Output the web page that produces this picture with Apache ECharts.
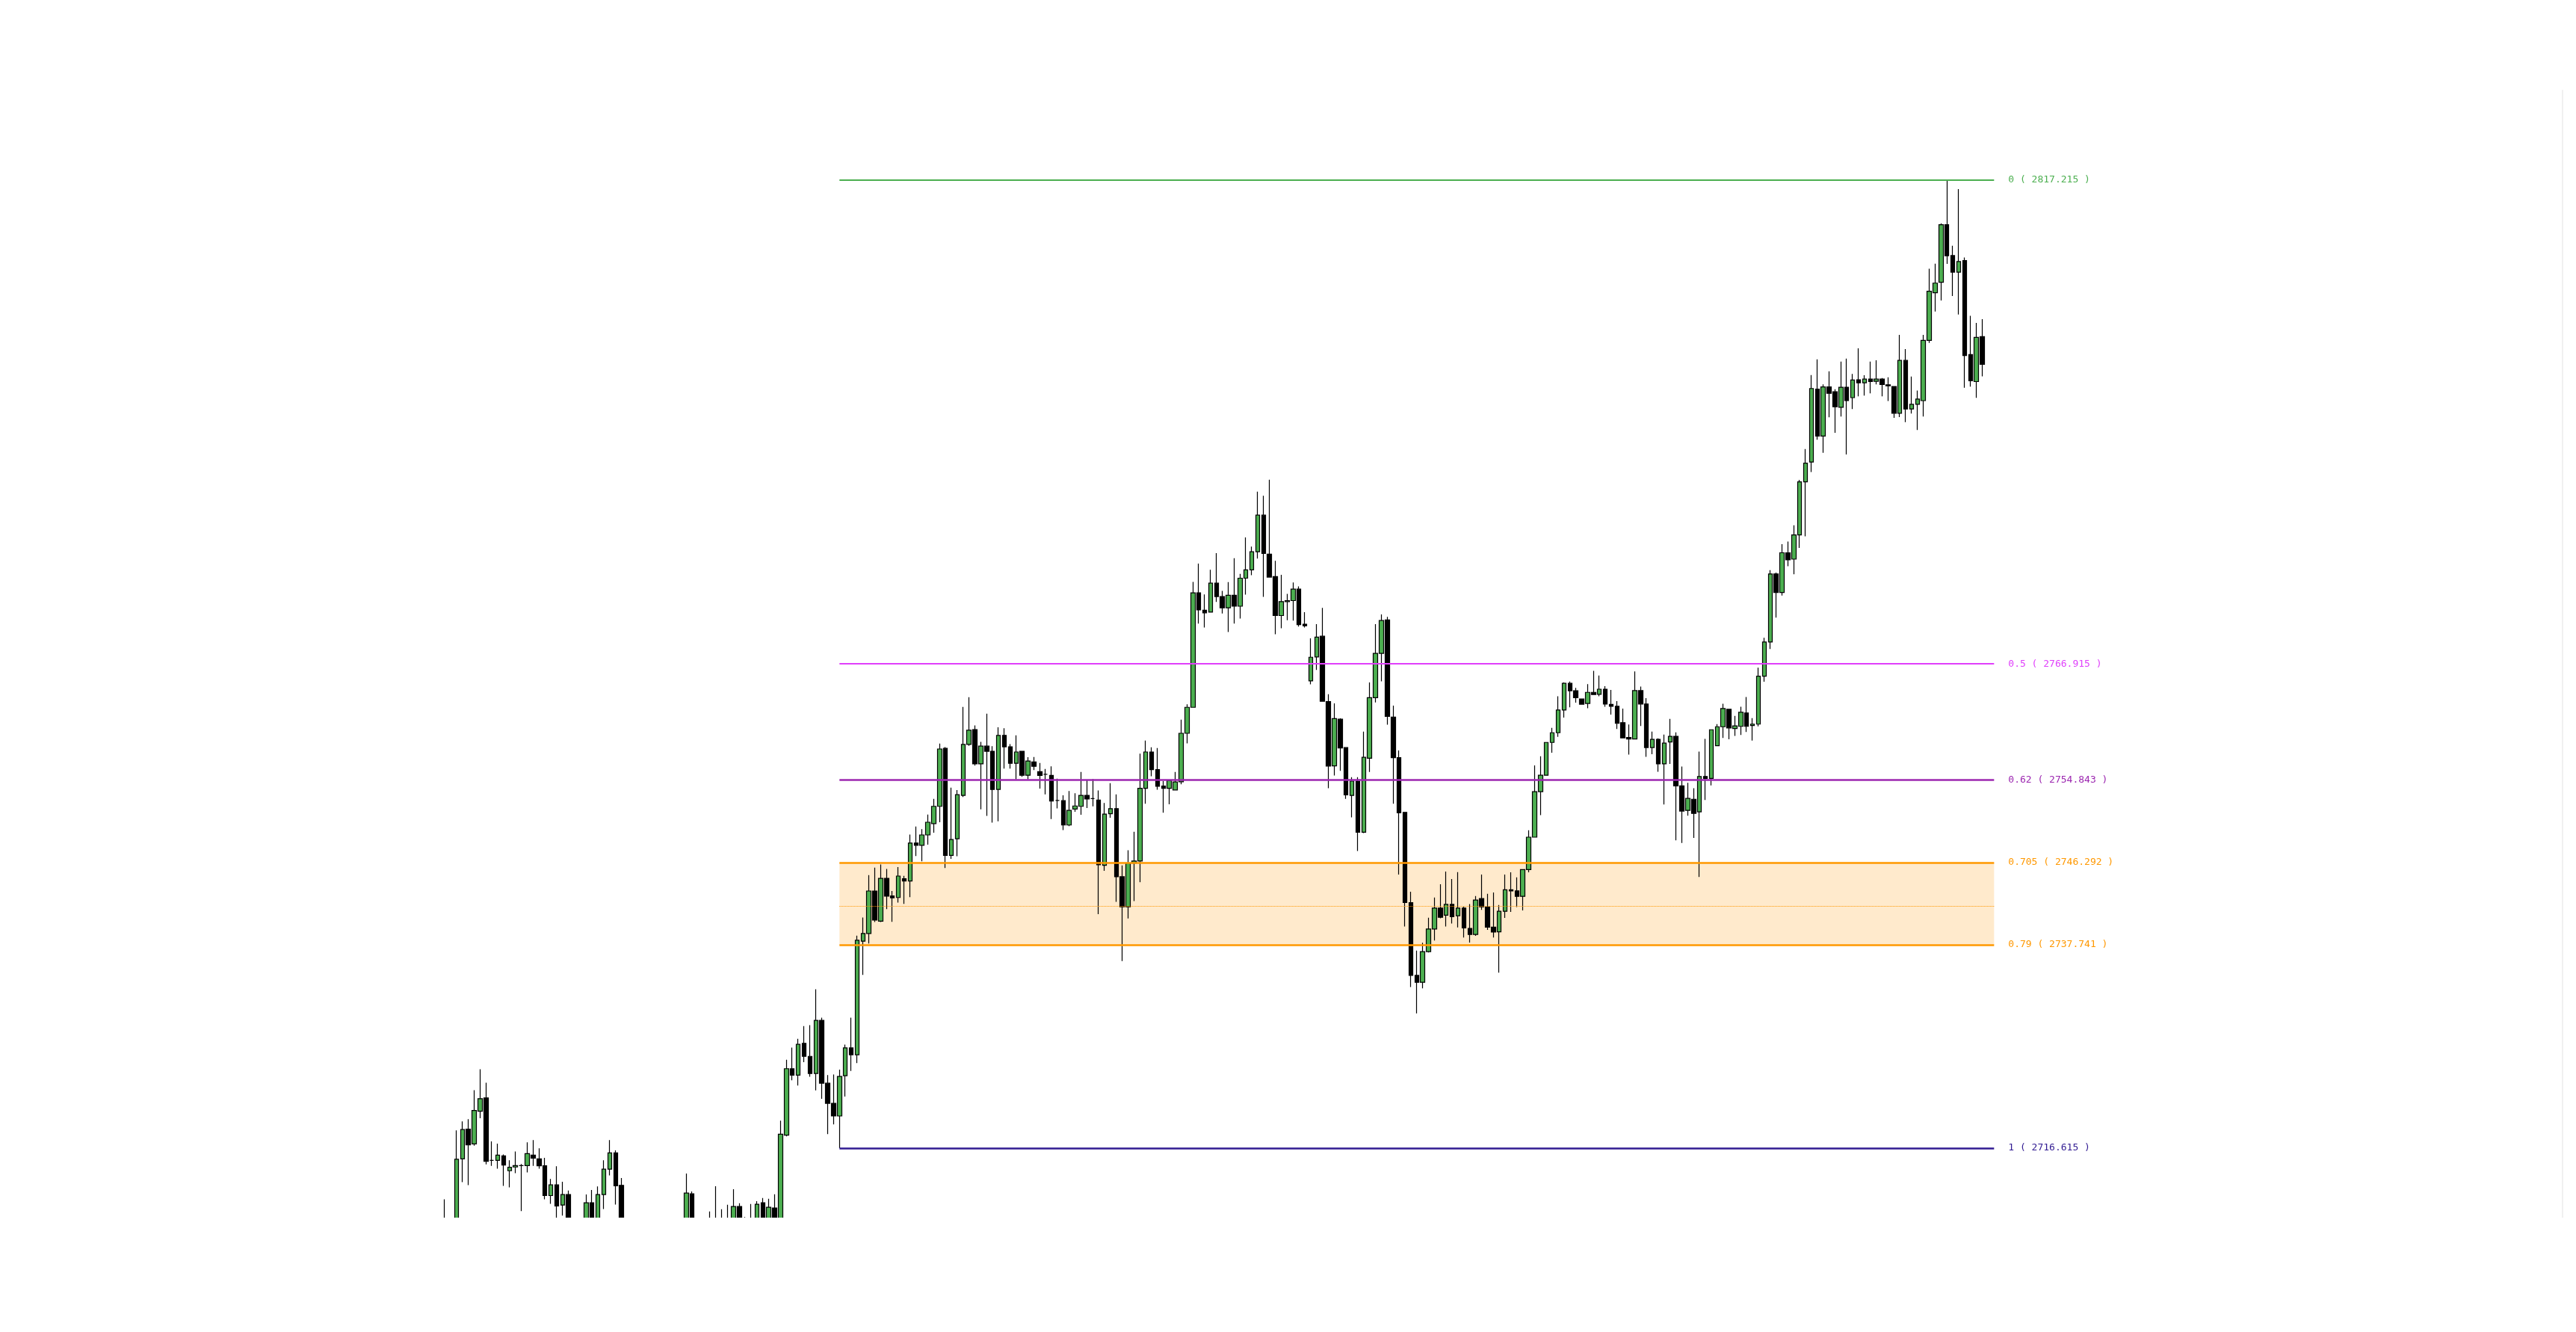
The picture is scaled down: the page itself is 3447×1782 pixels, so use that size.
<!DOCTYPE html>
<html>
<head>
<meta charset="utf-8">
<script src="https://cdn.jsdelivr.net/npm/echarts@6/dist/echarts.min.js"></script>
<style>
html,body{margin:0;padding:0;background:#fff;}
#chart{width:3447px;height:1782px;}
</style>
</head>
<body>
<div id="chart"></div>
<script>
// [open, close, low, high] for each bar, in order
const candles = [
[2706.0,2707.5,2705.0,2711.3],[2707.5,2706.0,2704.8,2708.9],[2708.0,2715.46,2707.2,2718.47],[2715.51,2718.55,2713.08,2719.4],
[2718.6,2716.95,2712.78,2719.63],[2717.05,2720.53,2716.87,2722.64],[2720.45,2721.76,2719.73,2724.81],[2721.84,2715.25,2714.94,2723.41],
[2715.35,2715.35,2714.78,2717.31],[2715.35,2715.89,2714.48,2717.08],[2715.81,2714.86,2712.7,2715.97],[2714.27,2714.63,2712.54,2715.35],
[2714.66,2714.81,2714.01,2716.28],[2714.81,2714.81,2710.07,2714.97],[2714.81,2716.05,2714.09,2717.23],[2715.89,2715.58,2714.78,2717.46],
[2715.5,2714.78,2714.48,2716.61],[2714.78,2711.69,2711.31,2715.61],[2711.69,2712.8,2710.84,2713.42],[2712.8,2710.61,2708.5,2714.73],
[2710.71,2711.8,2709.61,2713.13],[2711.8,2707.5,2706.0,2712.21],[2707.5,2705.2,2703.8,2708.6],[2705.2,2706.4,2704.5,2708.2],
[2706.4,2710.95,2705.8,2711.8],[2710.95,2708.2,2707.4,2712.28],[2708.2,2711.8,2707.6,2712.65],[2711.8,2714.43,2710.3,2715.35],
[2714.43,2716.12,2713.78,2717.46],[2716.12,2712.7,2710.76,2716.38],[2712.75,2707.0,2705.5,2713.52],[2707.0,2704.5,2703.2,2708.0],
[2704.5,2703.1,2701.8,2705.6],[2703.1,2704.8,2702.4,2706.0],[2704.8,2702.6,2701.5,2705.9],[2702.6,2701.4,2700.2,2703.8],
[2701.4,2703.2,2700.6,2704.1],[2703.2,2704.9,2702.7,2706.3],[2704.9,2703.8,2703.0,2706.2],[2703.8,2705.6,2703.1,2706.9],
[2705.6,2706.8,2704.9,2708.1],[2706.8,2711.95,2706.3,2713.99],[2711.87,2707.6,2706.8,2712.11],[2707.6,2706.1,2705.2,2708.4],
[2706.1,2705.3,2704.1,2707.5],[2705.3,2707.4,2704.8,2710.05],[2707.4,2706.6,2705.9,2712.67],[2706.6,2707.9,2706.0,2710.28],
[2707.9,2706.8,2706.1,2710.74],[2706.8,2710.56,2706.3,2712.36],[2710.56,2707.2,2706.5,2710.9],[2707.2,2707.9,2706.6,2709.45],
[2707.9,2708.4,2707.1,2710.82],[2708.4,2710.79,2707.9,2711.1],[2710.95,2708.6,2707.8,2711.43],[2708.6,2710.48,2708.1,2711.36],
[2710.4,2708.3,2707.5,2711.82],[2708.3,2718.06,2708.0,2719.47],[2717.97,2724.87,2717.85,2725.81],[2724.87,2724.2,2723.66,2727.07],
[2724.2,2727.4,2723.12,2727.97],[2727.5,2726.15,2725.55,2729.3],[2726.15,2724.37,2724.04,2729.4],[2724.37,2729.89,2722.62,2733.12],
[2729.89,2723.36,2721.74,2730.16],[2723.36,2721.27,2718.07,2724.2],[2721.27,2719.96,2719.08,2724.27],[2719.96,2724.07,2716.615,2724.78],
[2724.14,2727.03,2721.98,2727.37],[2727.03,2726.32,2724.64,2730.16],[2726.32,2738.21,2725.45,2738.68],[2738.11,2738.92,2734.61,2740.57],
[2738.92,2743.33,2737.87,2744.98],[2743.33,2740.3,2740.1,2745.75],[2740.2,2744.64,2740.1,2746.09],[2744.64,2742.79,2741.44,2745.62],
[2742.82,2742.62,2740.13,2743.33],[2742.65,2744.88,2742.12,2745.82],[2744.61,2744.37,2741.98,2744.91],[2744.37,2748.31,2742.69,2749.19],
[2748.31,2748.08,2746.96,2750.03],[2748.08,2749.15,2746.42,2749.76],[2749.15,2750.47,2748.14,2751.27],[2750.33,2752.12,2749.39,2752.89],
[2752.12,2758.08,2750.47,2758.65],[2758.14,2747.03,2745.72,2758.28],[2747.03,2748.68,2746.66,2754.07],[2748.75,2753.33,2746.93,2753.8],
[2753.26,2758.55,2753.09,2762.45],[2758.55,2760.03,2758.41,2763.46],[2760.1,2756.53,2756.36,2760.53],[2756.53,2758.38,2751.81,2758.82],
[2758.38,2757.84,2751.14,2761.75],[2757.84,2753.87,2750.43,2758.38],[2753.87,2759.49,2750.57,2760.33],[2759.49,2758.31,2756.05,2760.23],
[2758.31,2756.59,2756.05,2758.58],[2756.59,2757.77,2754.94,2759.49],[2757.84,2755.35,2755.18,2757.84],[2755.35,2756.83,2754.94,2757.23],
[2756.73,2756.28,2755.88,2757.25],[2755.72,2755.34,2753.96,2756.63],[2755.45,2755.45,2753.37,2756.0],[2755.34,2752.67,2750.8,2756.28],
[2752.74,2752.74,2751.91,2754.99],[2752.71,2750.18,2749.66,2753.26],[2750.18,2751.7,2750.07,2753.71],[2751.84,2752.16,2751.56,2753.47],
[2752.12,2753.26,2751.25,2755.69],[2753.26,2752.88,2751.95,2754.82],[2752.92,2752.92,2752.12,2754.96],[2752.78,2746.06,2740.93,2753.78],
[2745.99,2751.32,2745.43,2752.47],[2751.36,2751.88,2750.94,2754.52],[2751.88,2744.81,2742.21,2753.37],[2744.81,2741.69,2736.04,2745.99],
[2741.69,2746.23,2740.48,2747.55],[2746.23,2746.44,2742.28,2749.49],[2746.44,2753.99,2744.25,2757.59],[2753.99,2757.77,2752.4,2758.95],
[2757.77,2755.93,2755.24,2758.25],[2755.93,2754.2,2753.85,2758.18],[2754.23,2753.99,2751.46,2754.75],[2753.99,2754.79,2752.33,2754.79],
[2753.82,2754.65,2753.82,2755.69],[2754.68,2759.71,2754.41,2761.13],[2759.71,2762.41,2758.67,2762.72],[2762.41,2774.3,2762.41,2775.44],
[2774.3,2772.53,2771.11,2777.34],[2772.49,2772.22,2770.69,2774.13],[2772.29,2775.3,2772.29,2776.69],[2775.3,2773.91,2773.36,2778.42],
[2773.91,2772.74,2772.15,2774.5],[2772.74,2774.05,2770.24,2775.41],[2774.05,2772.91,2771.11,2777.9],[2772.91,2775.82,2771.63,2776.27],
[2775.82,2776.69,2774.12,2780.05],[2776.69,2778.56,2776.13,2779.11],[2778.56,2782.37,2777.86,2784.8],[2782.37,2778.39,2773.88,2784.38],
[2778.32,2775.93,2775.93,2786.04],[2775.99,2771.94,2770.0,2777.62],[2771.94,2773.39,2770.62,2776.17],[2773.39,2773.49,2771.45,2774.19],
[2773.49,2774.68,2771.42,2775.37],[2774.68,2771.0,2770.8,2774.96],[2771.04,2770.87,2770.69,2772.29],[2765.15,2767.61,2764.8,2769.58],
[2767.64,2769.69,2766.29,2771.04],[2769.79,2763.03,2763.03,2772.74],[2763.0,2756.31,2754.0,2763.76],[2756.32,2761.23,2755.32,2762.81],
[2761.17,2758.19,2755.8,2761.26],[2758.22,2753.31,2752.9,2758.22],[2753.25,2754.74,2750.98,2755.14],[2754.74,2749.43,2747.48,2755.14],
[2749.43,2757.21,2749.34,2759.88],[2757.12,2763.41,2755.69,2764.99],[2763.41,2768.01,2762.92,2771.05],[2768.01,2771.42,2765.11,2772.05],
[2771.48,2761.46,2760.6,2771.8],[2761.4,2757.18,2752.39,2762.58],[2757.18,2751.44,2745.04,2757.93],[2751.5,2742.13,2739.64,2751.5],
[2742.11,2734.56,2733.35,2743.26],[2734.56,2733.84,2730.62,2737.14],[2733.84,2737.03,2733.21,2737.95],[2737.03,2739.38,2736.94,2740.56],
[2739.38,2741.56,2738.18,2742.65],[2741.56,2740.59,2740.5,2744.03],[2740.82,2741.94,2739.64,2745.35],[2741.94,2740.65,2739.96,2744.58],
[2740.76,2741.56,2739.55,2745.29],[2741.56,2739.5,2738.49,2741.7],[2739.44,2738.81,2737.98,2741.96],[2738.81,2742.39,2738.67,2742.8],
[2742.54,2741.68,2741.36,2745.04],[2741.68,2739.58,2739.3,2743.03],[2739.58,2739.06,2738.49,2743.17],[2739.09,2741.22,2734.85,2741.88],
[2741.22,2743.46,2740.53,2745.04],[2743.46,2743.34,2741.16,2745.27],[2743.34,2742.77,2741.65,2744.75],[2742.77,2745.55,2741.31,2745.55],
[2745.55,2748.92,2745.26,2749.63],[2748.92,2753.65,2748.92,2756.38],[2753.65,2755.35,2751.21,2757.32],[2755.35,2758.76,2755.32,2758.76],
[2758.76,2759.77,2757.7,2760.28],[2759.77,2762.12,2759.34,2763.56],[2762.12,2764.9,2761.35,2764.99],[2764.9,2764.13,2762.41,2765.08],
[2764.13,2763.41,2762.9,2764.42],[2763.27,2762.72,2762.72,2763.27],[2762.81,2763.96,2762.32,2764.82],[2763.96,2763.73,2763.73,2766.2],
[2763.75,2764.29,2763.56,2765.7],[2764.29,2762.74,2762.47,2764.6],[2762.71,2762.51,2761.66,2764.21],[2762.51,2760.74,2760.16,2763.05],
[2760.81,2759.23,2759.23,2762.28],[2759.27,2759.12,2757.49,2760.62],[2759.12,2764.14,2759.12,2766.14],[2764.14,2762.75,2760.47,2764.56],
[2762.75,2758.23,2757.26,2763.36],[2758.23,2759.08,2757.53,2759.89],[2759.08,2756.53,2755.72,2759.19],[2756.53,2758.69,2752.32,2759.58],
[2758.8,2759.39,2756.53,2761.2],[2759.39,2754.25,2748.58,2759.81],[2754.25,2751.63,2748.31,2756.26],[2751.7,2752.94,2751.16,2754.56],
[2752.86,2751.39,2748.85,2754.0],[2751.55,2755.22,2744.79,2757.8],[2755.22,2755.03,2752.78,2759.12],[2755.03,2760.08,2754.29,2760.08],
[2758.42,2760.39,2758.42,2760.66],[2760.39,2762.28,2759.23,2762.78],[2762.2,2760.27,2759.08,2762.2],[2760.2,2760.47,2759.43,2761.51],
[2760.43,2761.89,2759.54,2762.47],[2761.82,2760.43,2759.85,2763.48],[2760.51,2760.66,2758.96,2761.28],[2760.66,2765.64,2760.43,2766.53],
[2765.64,2769.19,2765.06,2769.62],[2769.19,2776.26,2768.46,2776.65],[2776.26,2774.33,2771.73,2776.41],[2774.33,2778.46,2774.02,2779.35],
[2778.46,2777.73,2777.07,2779.62],[2777.8,2780.31,2776.22,2781.32],[2780.31,2785.83,2778.96,2786.03],[2785.83,2787.77,2780.16,2789.23],
[2787.88,2795.52,2786.84,2796.91],[2795.45,2790.58,2790.2,2798.54],[2790.58,2795.68,2788.85,2795.95],[2795.68,2795.02,2792.53,2797.3],
[2795.19,2793.62,2790.92,2795.45],[2793.57,2795.65,2792.61,2798.31],[2795.65,2794.26,2788.67,2798.62],[2794.57,2796.4,2793.39,2797.04],
[2796.43,2796.12,2794.7,2799.7],[2796.12,2796.5,2794.78,2796.89],[2796.5,2796.25,2795.01,2798.31],[2796.27,2796.5,2795.94,2798.46],
[2796.5,2795.94,2794.7,2796.6],[2795.91,2795.81,2794.23,2796.68],[2795.73,2792.95,2792.48,2795.73],[2792.95,2798.44,2792.56,2801.09],
[2798.44,2793.39,2792.02,2799.62],[2793.39,2793.88,2792.92,2796.76],[2793.88,2794.42,2791.22,2795.3],[2794.26,2800.52,2792.61,2801.09],
[2800.52,2805.62,2800.26,2807.97],[2805.47,2806.47,2803.51,2808.48],[2806.55,2812.53,2804.67,2812.68],[2812.53,2809.31,2808.46,2817.215],
[2809.33,2807.61,2805.13,2810.36],[2807.61,2808.71,2803.2,2816.24],[2808.81,2798.95,2795.6,2809.12],[2799.05,2796.32,2795.71,2803.07],
[2796.24,2800.83,2794.55,2802.33],[2800.91,2798.03,2796.79,2802.72]
];

// Fibonacci retracement levels
const fibRatios = [0, 0.5, 0.62, 0.705, 0.75, 0.79, 1];
const fibPrices = [2817.215, 2766.915, 2754.843, 2746.292, 2741.765, 2737.741, 2716.615];
const fibColors = ['#4caf50', '#e040fb', '#9c27b0', '#ff9800', '#ff9800', '#ff9800', '#311b92'];
const fibShowLabel = [true, true, true, true, false, true, true];
const zoneTop = 2746.292, zoneBottom = 2737.741;

// layout of the time axis (empty slots before and after the visible bars)
const slotsBefore = 75;
const slotsTotal = 435;
const fibStartBar = 67;   // bar holding the swing low
const fibEndBar = 263;

const categories = [];
for (let i = 0; i < slotsTotal; i++) categories.push(String(i - slotsBefore));
const seriesData = [];
for (let i = 0; i < slotsTotal; i++) {
  const k = i - slotsBefore;
  seriesData.push(k >= 0 && k < candles.length ? candles[k] : '-');
}
const x0 = fibStartBar + slotsBefore, x1 = fibEndBar + slotsBefore;

const markLineData = fibRatios.map((r, i) => [
  {
    coord: [x0, fibPrices[i]],
    lineStyle: { color: fibColors[i], width: r === 0.75 ? 1 : (r < 0.6 ? 2 : 2.6), type: r === 0.75 ? 'dotted' : 'solid' },
    label: {
      show: fibShowLabel[i], position: 'end', distance: 19,
      formatter: r + ' ( ' + fibPrices[i].toFixed(3) + ' )',
      color: fibColors[i], fontFamily: 'DejaVu Sans Mono', fontSize: 13
    }
  },
  { coord: [x1, fibPrices[i]] }
]);

const GRID_TOP = 121, GRID_BOTTOM = 153;
const chart = echarts.init(document.getElementById('chart'), null, { renderer: 'canvas' });
chart.setOption({
  animation: false,
  backgroundColor: '#ffffff',
  grid: { left: 0, right: 18, top: GRID_TOP, bottom: GRID_BOTTOM, containLabel: false },
  xAxis: {
    type: 'category', data: categories, boundaryGap: true,
    axisLine: { show: false }, axisTick: { show: false }, axisLabel: { show: false }, splitLine: { show: false }
  },
  yAxis: {
    type: 'value', position: 'right', min: 2709.4, max: 2826.48, scale: true,
    axisLine: { show: true, lineStyle: { color: '#f0f0f0', width: 2 } },
    axisTick: { show: false }, axisLabel: { show: false }, splitLine: { show: false }
  },
  // white band under the plot area so bars that run below the axis minimum are cut off
  graphic: [{
    type: 'rect', left: 0, bottom: 0, z: 100, silent: true,
    shape: { width: 3447, height: GRID_BOTTOM },
    style: { fill: '#ffffff' }
  }],
  series: [{
    type: 'candlestick',
    data: seriesData,
    barWidth: '76%',
    clip: true,
    itemStyle: {
      color: '#4caf50', color0: '#000000',
      borderColor: '#000000', borderColor0: '#000000', borderColorDoji: '#000000',
      borderWidth: 1.2
    },
    markArea: {
      silent: true,
      data: [[{ coord: [x0, zoneTop], itemStyle: { color: 'rgba(255,152,0,0.2)' } }, { coord: [x1, zoneBottom] }]]
    },
    markLine: {
      silent: true, symbol: ['none', 'none'], animation: false,
      data: markLineData
    }
  }]
});
</script>
</body>
</html>
